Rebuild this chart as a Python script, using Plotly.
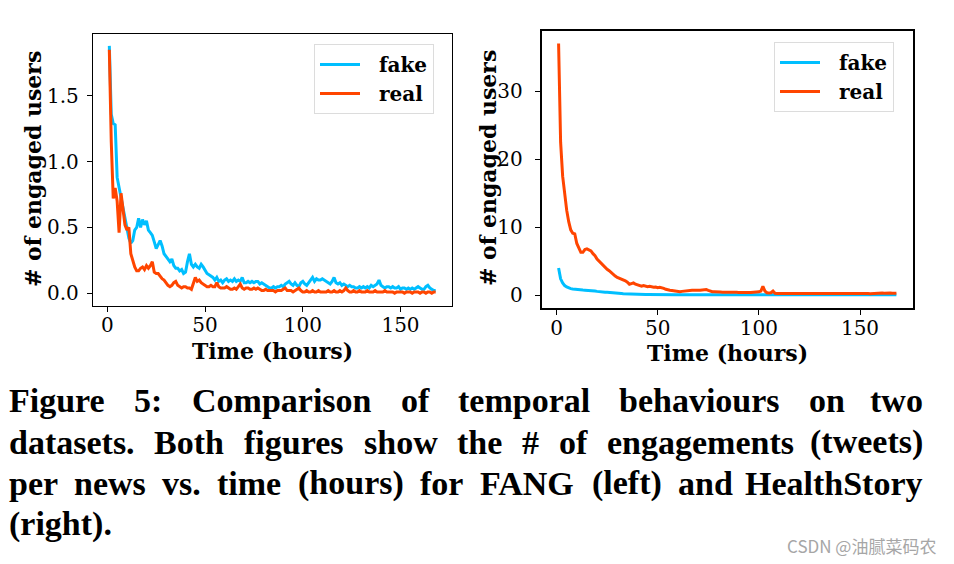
import plotly.graph_objects as go

hours = list(range(1, 169))

fang_fake = [
    1.88, 1.36, 1.29, 1.28, 0.88, 0.80, 0.72, 0.66, 0.56, 0.49,
    0.42, 0.38, 0.40, 0.48, 0.50, 0.57, 0.50, 0.56, 0.52, 0.55,
    0.48, 0.46, 0.44, 0.39, 0.34, 0.37, 0.40, 0.36, 0.30, 0.28,
    0.26, 0.24, 0.26, 0.21, 0.19, 0.19, 0.17, 0.18, 0.15, 0.16,
    0.24, 0.30, 0.22, 0.20, 0.22, 0.20, 0.19, 0.22, 0.20, 0.17,
    0.15, 0.14, 0.13, 0.12, 0.10, 0.12, 0.09, 0.10, 0.08, 0.10,
    0.11, 0.09, 0.10, 0.09, 0.11, 0.09, 0.10, 0.09, 0.12, 0.08,
    0.08, 0.09, 0.08, 0.09, 0.08, 0.09, 0.09, 0.07, 0.08, 0.07,
    0.06, 0.05, 0.04, 0.04, 0.05, 0.04, 0.05, 0.05, 0.06, 0.05,
    0.07, 0.08, 0.09, 0.07, 0.06, 0.08, 0.06, 0.05, 0.08, 0.09,
    0.07, 0.06, 0.08, 0.10, 0.12, 0.09, 0.11, 0.10, 0.10, 0.11,
    0.10, 0.09, 0.08, 0.07, 0.09, 0.12, 0.08, 0.07, 0.08, 0.06,
    0.07, 0.06, 0.05, 0.06, 0.05, 0.05, 0.04, 0.04, 0.05, 0.04,
    0.05, 0.04, 0.05, 0.04, 0.06, 0.05, 0.06, 0.07, 0.10, 0.06,
    0.05, 0.04, 0.05, 0.05, 0.04, 0.05, 0.04, 0.04, 0.05, 0.03,
    0.04, 0.04, 0.03, 0.04, 0.03, 0.04, 0.03, 0.04, 0.05, 0.04,
    0.03, 0.03, 0.05, 0.06, 0.04, 0.03, 0.02, 0.02,
]

fang_real = [
    1.85, 1.15, 0.72, 0.80, 0.70, 0.46, 0.76, 0.64, 0.52, 0.48,
    0.50, 0.30, 0.24, 0.20, 0.17, 0.17, 0.19, 0.20, 0.18, 0.21,
    0.19, 0.21, 0.24, 0.16, 0.15, 0.15, 0.13, 0.11, 0.10, 0.08,
    0.06, 0.05, 0.06, 0.08, 0.09, 0.06, 0.05, 0.04, 0.05, 0.05,
    0.04, 0.04, 0.03, 0.08, 0.12, 0.09, 0.10, 0.08, 0.07, 0.06,
    0.05, 0.05, 0.06, 0.05, 0.05, 0.08, 0.05, 0.04, 0.04, 0.04,
    0.05, 0.04, 0.03, 0.03, 0.04, 0.03, 0.05, 0.07, 0.04, 0.03,
    0.04, 0.04, 0.03, 0.03, 0.04, 0.03, 0.04, 0.03, 0.02, 0.02,
    0.03, 0.02, 0.02, 0.02, 0.02, 0.01, 0.02, 0.02, 0.02, 0.03,
    0.04, 0.02, 0.02, 0.02, 0.01, 0.02, 0.03, 0.04, 0.02, 0.01,
    0.01, 0.02, 0.01, 0.01, 0.02, 0.01, 0.01, 0.02, 0.01, 0.01,
    0.01, 0.01, 0.02, 0.01, 0.01, 0.02, 0.01, 0.01, 0.02, 0.01,
    0.02, 0.04, 0.02, 0.01, 0.01, 0.02, 0.01, 0.01, 0.02, 0.01,
    0.01, 0.01, 0.02, 0.01, 0.01, 0.01, 0.02, 0.01, 0.01, 0.01,
    0.01, 0.02, 0.01, 0.01, 0.01, 0.01, 0.00, 0.01, 0.01, 0.01,
    0.01, 0.00, 0.01, 0.01, 0.01, 0.00, 0.01, 0.01, 0.01, 0.00,
    0.01, 0.01, 0.00, 0.01, 0.01, 0.00, 0.01, 0.01,
]

health_fake = [
    4.00, 2.40, 1.80, 1.40, 1.20, 1.05, 0.95, 0.90, 0.85, 0.80,
    0.78, 0.76, 0.74, 0.73, 0.72, 0.74, 0.72, 0.66, 0.60, 0.55,
    0.50, 0.46, 0.45, 0.44, 0.42, 0.38, 0.35, 0.33, 0.30, 0.28,
    0.26, 0.24, 0.22, 0.20, 0.18, 0.16, 0.15, 0.14, 0.12, 0.11,
    0.11, 0.10, 0.10, 0.09, 0.10, 0.09, 0.09, 0.08, 0.09, 0.08,
    0.08, 0.07, 0.08, 0.07, 0.07, 0.06, 0.07, 0.06, 0.06, 0.07,
    0.06, 0.06, 0.05, 0.06, 0.06, 0.05, 0.06, 0.05, 0.05, 0.06,
    0.05, 0.05, 0.06, 0.05, 0.05, 0.05, 0.06, 0.05, 0.05, 0.05,
    0.05, 0.04, 0.05, 0.05, 0.04, 0.05, 0.05, 0.04, 0.05, 0.05,
    0.04, 0.05, 0.04, 0.05, 0.04, 0.04, 0.05, 0.04, 0.05, 0.04,
    0.05, 0.06, 0.05, 0.04, 0.04, 0.05, 0.04, 0.04, 0.05, 0.04,
    0.04, 0.04, 0.05, 0.04, 0.04, 0.04, 0.05, 0.04, 0.04, 0.04,
    0.04, 0.05, 0.04, 0.04, 0.04, 0.04, 0.05, 0.04, 0.04, 0.04,
    0.04, 0.04, 0.04, 0.05, 0.04, 0.04, 0.04, 0.04, 0.04, 0.04,
    0.04, 0.04, 0.05, 0.04, 0.04, 0.04, 0.04, 0.04, 0.04, 0.04,
    0.04, 0.04, 0.04, 0.04, 0.04, 0.05, 0.04, 0.04, 0.04, 0.04,
    0.04, 0.04, 0.04, 0.04, 0.04, 0.04, 0.04, 0.04,
]

health_real = [
    37.0, 22.5, 17.5, 14.5, 12.5, 10.8, 9.6, 9.1, 9.0, 7.6,
    6.8, 6.3, 6.3, 6.7, 6.8, 6.7, 6.5, 6.1, 5.8, 5.3,
    5.0, 4.6, 4.3, 4.0, 3.8, 3.6, 3.3, 3.0, 2.8, 2.6,
    2.5, 2.4, 2.2, 2.1, 1.9, 1.6, 1.7, 1.8, 1.6, 1.5,
    1.45, 1.3, 1.4, 1.3, 1.25, 1.3, 1.2, 1.15, 1.2, 1.1,
    1.15, 1.1, 1.0, 0.85, 0.75, 0.72, 0.68, 0.63, 0.6, 0.55,
    0.5, 0.55, 0.6, 0.62, 0.65, 0.68, 0.7, 0.72, 0.75, 0.72,
    0.7, 0.75, 0.85, 0.82, 0.7, 0.55, 0.5, 0.5, 0.45, 0.48,
    0.45, 0.42, 0.45, 0.48, 0.44, 0.42, 0.45, 0.4, 0.42, 0.4,
    0.38, 0.4, 0.42, 0.4, 0.38, 0.4, 0.42, 0.45, 0.4, 0.48,
    0.6, 1.3, 0.6, 0.35, 0.3, 0.35, 0.6, 0.28, 0.25, 0.25,
    0.28, 0.3, 0.3, 0.32, 0.35, 0.33, 0.3, 0.35, 0.32, 0.3,
    0.35, 0.32, 0.3, 0.33, 0.3, 0.28, 0.3, 0.32, 0.35, 0.3,
    0.28, 0.3, 0.33, 0.3, 0.25, 0.28, 0.25, 0.28, 0.3, 0.25,
    0.28, 0.3, 0.32, 0.28, 0.25, 0.28, 0.3, 0.28, 0.25, 0.27,
    0.25, 0.28, 0.3, 0.25, 0.22, 0.25, 0.27, 0.28, 0.25, 0.27,
    0.3, 0.28, 0.32, 0.35, 0.3, 0.28, 0.3, 0.28,
]

x_ticks = [0, 50, 100, 150]
fang_y_ticks = [0.0, 0.5, 1.0, 1.5]
health_y_ticks = [0, 10, 20, 30]

x_title = "Time (hours)"
y_title = "# of engaged users"

caption_lines = [
    "Figure 5: Comparison of temporal behaviours on two",
    "datasets. Both figures show the # of engagements (tweets)",
    "per news vs. time (hours) for FANG (left) and HealthStory",
    "(right).",
]
caption_justified = [True, True, True, False]
watermark = "CSDN @油腻菜码农"

FAKE = "#00BFFF"
REAL = "#FF4500"
W, H = 954, 564
NB = "\u00a0\u00a0"

fig = go.Figure()
fig.add_trace(go.Scatter(x=hours, y=fang_fake, name=NB + "fake", mode="lines",
                         line=dict(color=FAKE, width=3), xaxis="x", yaxis="y", legend="legend"))
fig.add_trace(go.Scatter(x=hours, y=fang_real, name=NB + "real", mode="lines",
                         line=dict(color=REAL, width=3), xaxis="x", yaxis="y", legend="legend"))
fig.add_trace(go.Scatter(x=hours, y=health_fake, name=NB + "fake", mode="lines",
                         line=dict(color=FAKE, width=3), xaxis="x2", yaxis="y2", legend="legend2"))
fig.add_trace(go.Scatter(x=hours, y=health_real, name=NB + "real", mode="lines",
                         line=dict(color=REAL, width=3), xaxis="x2", yaxis="y2", legend="legend2"))

tickfont = dict(family="DejaVu Serif", size=20, color="black")
titlefont = dict(family="DejaVu Serif", size=22, color="black", weight="bold")


def px(x):
    return x / W


def py(y):
    return 1 - y / H


def axis_common(lw, standoff):
    return dict(showline=True, mirror=True, linecolor="black", linewidth=lw,
                ticks="outside", ticklen=5, tickwidth=1.2, tickcolor="black",
                ticklabelstandoff=standoff,
                showgrid=False, zeroline=False, tickfont=tickfont)


legend_font = dict(family="DejaVu Serif", size=20, color="black", weight="bold")

fig.update_layout(
    width=W, height=H,
    margin=dict(l=0, r=0, t=0, b=0),
    paper_bgcolor="white", plot_bgcolor="white",
    xaxis=dict(domain=[px(93), px(452)], range=[-7.35, 176.35], tickvals=x_ticks,
               anchor="y", **axis_common(1.3, -4)),
    yaxis=dict(domain=[py(306), py(34)], range=[-0.097, 1.97], tickvals=fang_y_ticks,
               tickformat=".1f", anchor="x", **axis_common(1.3, 4)),
    xaxis2=dict(domain=[px(541.7), px(913.3)], range=[-7.35, 176.35], tickvals=x_ticks,
                anchor="y2", **axis_common(2, -4)),
    yaxis2=dict(domain=[py(307.7), py(31)], range=[-1.85, 38.85], tickvals=health_y_ticks,
                anchor="x2", **axis_common(2, 8)),
    legend=dict(x=px(314), y=py(44), xanchor="left", yanchor="top",
                bgcolor="white", bordercolor="#dcdcdc", borderwidth=1,
                font=legend_font, tracegroupgap=0, itemwidth=40),
    legend2=dict(x=px(774), y=py(42), xanchor="left", yanchor="top",
                 bgcolor="white", bordercolor="#dcdcdc", borderwidth=1,
                 font=legend_font, tracegroupgap=0, itemwidth=40),
)

# axis titles (placed as annotations for exact positioning)
for xc, yc in [(272.5, 351), (727.5, 352.5)]:
    fig.add_annotation(text=x_title, x=px(xc), y=py(yc), xref="paper", yref="paper",
                       xanchor="center", yanchor="middle", showarrow=False, font=titlefont)
for xc, yc in [(33, 169), (488, 168)]:
    fig.add_annotation(text=y_title, x=px(xc), y=py(yc), xref="paper", yref="paper",
                       xanchor="center", yanchor="middle", textangle=-90,
                       showarrow=False, font=titlefont)

# justified caption: approximate advance widths (per 1000 em) of a Times-style bold face
TB = {" ": 250, "#": 500, "(": 333, ")": 333, ".": 250, ":": 333, "5": 500,
      "A": 722, "B": 667, "C": 722, "F": 611, "G": 778, "H": 778, "N": 722, "S": 556,
      "a": 500, "b": 556, "c": 444, "d": 556, "e": 444, "f": 333, "g": 500, "h": 556,
      "i": 278, "k": 556, "l": 278, "m": 833, "n": 556, "o": 500, "p": 556, "r": 444,
      "s": 389, "t": 333, "u": 556, "v": 500, "w": 722, "y": 500}
CAP_SIZE = 34
cap_font = dict(family="Liberation Serif", size=CAP_SIZE, color="black", weight="bold")
cap_left, cap_right = 7, 925
caption_line_y = [400, 442, 483, 524]


def word_w(wd):
    return sum(TB.get(c, 500) for c in wd) * CAP_SIZE / 1000.0


for text, just, yc in zip(caption_lines, caption_justified, caption_line_y):
    words = text.split(" ")
    if not just:
        fig.add_annotation(text=text, x=px(cap_left), y=py(yc), xref="paper", yref="paper",
                           xanchor="left", yanchor="middle", showarrow=False, font=cap_font)
        continue
    widths = [word_w(w) for w in words]
    gap = (cap_right - cap_left - sum(widths)) / (len(words) - 1)
    xpos = cap_left
    for i, (wd, ww) in enumerate(zip(words, widths)):
        if i == len(words) - 1:
            fig.add_annotation(text=wd, x=px(cap_right), y=py(yc), xref="paper", yref="paper",
                               xanchor="right", yanchor="middle", showarrow=False, font=cap_font)
        else:
            fig.add_annotation(text=wd, x=px(xpos), y=py(yc), xref="paper", yref="paper",
                               xanchor="left", yanchor="middle", showarrow=False, font=cap_font)
        xpos += ww + gap

fig.add_annotation(text=watermark, x=px(938), y=py(545), xref="paper", yref="paper",
                   xanchor="right", yanchor="middle", showarrow=False,
                   font=dict(family="Noto Sans CJK SC", size=17, color="#a6a6a6"))

fig.write_html("out.html", config={"displayModeBar": False},
               post_script="document.body.style.margin='0px';")
